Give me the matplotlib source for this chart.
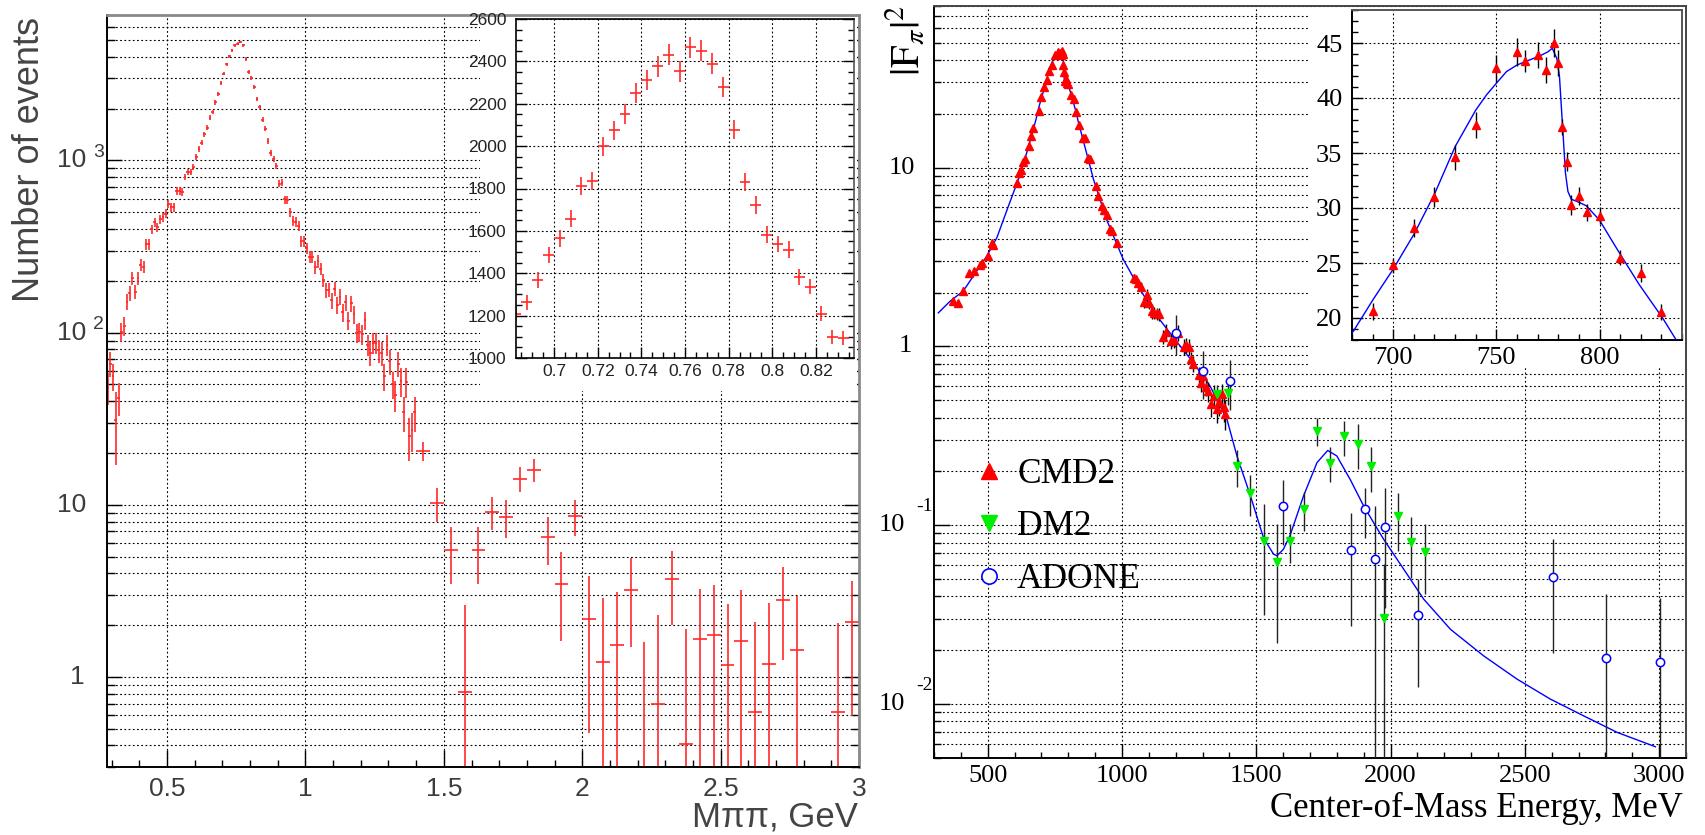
import numpy as np
import matplotlib
matplotlib.use('Agg')
import matplotlib.pyplot as plt
from matplotlib.ticker import MultipleLocator, LogLocator, NullFormatter
from matplotlib.transforms import offset_copy
from matplotlib.lines import Line2D

plt.rcParams['font.family'] = ['Liberation Sans', 'DejaVu Sans']

# ---------------- data: left panel (M_pipi spectrum) ----------------
lo_first_centre, lo_width = 0.285, 0.01
lo_counts = [48, 66, 56, 31, 42, 101, 110, 151, 169, 207,
             173, 207, 247, 241, 327, 327, 398, 437, 409, 455,
             467, 492, 558, 534, 534, 666, 666, 655, 803, 858,
             858, 918, 1049, 1163, 1272, 1421, 1546, 1776, 1915, 2172,
             2449, 2822, 3200, 3626, 4030, 4370, 4670, 4770, 4880, 4670,
             3890, 3270, 3017, 2675, 2280, 2045, 1730, 1526, 1300, 1107,
             1021, 927, 735, 745, 594, 588, 501, 446, 440, 416,
             339, 339, 309, 276, 276, 240, 260, 235, 202, 177,
             178, 154, 180, 145, 162, 131, 150, 117, 148, 128,
             100, 101, 98, 118, 85, 76, 87, 87, 79, 76,
             56, 85, 68, 50, 43.5, 66, 52.5, 34.5, 52, 25,
             27.3, 34.4]
lo_err = [10, 11, 10, 14, 9, 13, 14, 16, 17, 19,
          17, 19, 20, 20, 23, 23, 26, 27, 26, 28,
          28, 29, 31, 30, 30, 34, 34, 33, 37, 38,
          38, 39, 42, 44, 46, 49, 51, 55, 57, 61,
          64, 69, 74, 78, 83, 86, 89, 90, 91, 89,
          81, 74, 71, 67, 62, 59, 54, 51, 47, 43,
          42, 40, 35, 35, 32, 32, 29, 27, 27, 27,
          24, 24, 23, 22, 22, 20, 21, 20, 18, 17,
          17, 16, 17, 16, 17, 15, 16, 14, 16, 15,
          13, 13, 13, 14, 12, 12, 12, 12, 12, 12,
          10, 12, 11, 9, 9, 11, 10, 8, 10, 7,
          7, 8]

hi_first_centre, hi_width = 1.425, 0.05
hi_counts = [20.6, 10.3, 5.47, 0.82, 5.47, 9.1, 8.5, 14.2, 16.0, 6.5,
             3.47, 8.6, 2.17, 1.22, 1.53, 3.2, 0.2, 0.7, 3.7, 0.41,
             1.66, 1.75, 1.17, 1.62, 0.63, 1.19, 2.8, 1.44, np.nan, np.nan,
             0.63, 2.09]
hi_err = [2.7, 2.3, 2.0, 1.8, 2.0, 2.0, 2.1, 2.4, 2.4, 2.0,
          1.85, 2.0, 1.7, 1.66, 1.6, 1.7, 1.4, 1.6, 1.7, 1.5,
          1.6, 1.65, 1.5, 1.6, 1.45, 1.5, 1.55, 1.5, np.nan, np.nan,
          1.43, 1.5]

ins_first_centre, ins_width = 0.6825, 0.005
ins_counts = [1208, 1263, 1367, 1486, 1566, 1657, 1810, 1834, 1999, 2074,
              2151, 2252, 2313, 2376, 2431, 2353, 2466, 2450, 2389, 2279,
              2078, 1829, 1724, 1582, 1538, 1511, 1381, 1337, 1209, 1099,
              1094]
ins_err = [35, 36, 37, 39, 40, 41, 43, 43, 45, 46,
           46, 47, 48, 49, 49, 49, 50, 49, 49, 48,
           46, 43, 42, 40, 39, 39, 37, 37, 35, 33,
           33]

left_xticks = [0.5, 1.0, 1.5, 2.0, 2.5, 3.0]
left_xticklabels = ['0.5', '1', '1.5', '2', '2.5', '3']
ins_xticks = [0.70, 0.72, 0.74, 0.76, 0.78, 0.80, 0.82]
ins_xticklabels = ['0.7', '0.72', '0.74', '0.76', '0.78', '0.8', '0.82']
ins_yticks = [1000, 1200, 1400, 1600, 1800, 2000, 2200, 2400, 2600]

# ---------------- data: right panel (|F_pi|^2) ----------------
cmd2_E = [372, 391, 409, 430, 449, 471, 480, 500, 515, 521,
          610, 618, 623, 630, 638, 652, 660, 670, 690, 700,
          710, 720, 730, 740, 750, 760, 764, 770, 774, 778,
          780, 782, 784, 786, 790, 794, 800, 810, 820, 830,
          841, 853, 863, 872, 882, 904, 912, 925, 933, 943,
          956, 964, 981, 1045, 1053, 1061, 1070, 1082, 1092, 1102,
          1111, 1120, 1130, 1139, 1154, 1163, 1182, 1192, 1210, 1229,
          1239, 1248, 1256, 1266, 1285, 1294, 1303, 1313, 1322, 1331,
          1343, 1353, 1362, 1372, 1380, 1384]
cmd2_F = [1.79, 1.74, 2.05, 2.56, 2.64, 2.87, 2.94, 3.22, 3.8, 3.7,
          8.15, 9.3, 9.66, 10.8, 11.1, 13.2, 15.0, 16.7, 20.6, 24.8,
          28.2, 31.0, 34.6, 37.55, 42.7, 44.2, 43.4, 43.9, 42.55, 45.0,
          43.2, 37.35, 34.2, 30.3, 31.1, 29.6, 29.3, 25.5, 24.1, 20.55,
          17.4, 14.7, 14.7, 11.3, 11.1, 7.87, 6.92, 6.08, 5.82, 5.46,
          4.55, 4.44, 3.8, 2.42, 2.37, 2.25, 2.16, 1.77, 1.95, 1.74,
          1.57, 1.54, 1.53, 1.51, 1.13, 1.21, 1.07, 1.08, 1.19, 0.995,
          1.02, 0.995, 0.846, 0.8, 0.69, 0.627, 0.68, 0.595, 0.562, 0.474,
          0.53, 0.445, 0.49, 0.54, 0.46, 0.42]
cmd2_err = [0.08, 0.08, 0.09, 0.1, 0.1, 0.1, 0.1, 0.12, 0.15, 0.15,
            0.3, 0.35, 0.35, 0.4, 0.4, 0.45, 0.5, 0.55, 0.75, 0.68,
            0.8, 0.95, 1.1, 1.16, 1.2, 1.3, 1.0, 1.15, 1.2, 1.27,
            1.2, 0.7, 0.85, 0.9, 0.85, 0.8, 0.75, 0.65, 0.85, 0.75,
            0.6, 0.5, 0.5, 0.4, 0.4, 0.3, 0.3, 0.25, 0.25, 0.25,
            0.2, 0.2, 0.18, 0.12, 0.12, 0.12, 0.12, 0.12, 0.15, 0.12,
            0.15, 0.12, 0.12, 0.12, 0.1, 0.12, 0.1, 0.1, 0.12, 0.1,
            0.1, 0.1, 0.08, 0.08, 0.08, 0.07, 0.07, 0.07, 0.07, 0.07,
            0.08, 0.07, 0.08, 0.08, 0.08, 0.08]

dm2_E = [1353, 1394, 1428, 1477, 1527, 1577, 1626, 1676, 1726, 1776,
         1828, 1878, 1927, 1977, 2028, 2077, 2127]
dm2_F = [0.54, 0.55, 0.214, 0.152, 0.0817, 0.062, 0.0817, 0.123, 0.336, 0.224,
         0.315, 0.286, 0.214, 0.0305, 0.112, 0.081, 0.0713]
dm2_err = [0.07, 0.08, 0.05, 0.04, 0.05, 0.04, 0.02, 0.03, 0.06, 0.05,
           0.07, 0.08, 0.06, 0.03, 0.04, 0.03, 0.03]

adone_E = [1202, 1301, 1403, 1601, 1852, 1903, 1943, 1981, 2103, 2603, 2802, 3002]
adone_F = [1.19, 0.728, 0.64, 0.128, 0.0724, 0.123, 0.0646, 0.0977, 0.0314, 0.0514, 0.0182, 0.0172]
adone_err = [0.3, 0.22, 0.2, 0.05, 0.045, 0.038, 0.063, 0.063, 0.019, 0.032, 0.023, 0.022]

fit_E = [316, 360, 409, 496, 534, 577, 614, 651, 680.6, 690.3,
         700, 710.3, 720.2, 730, 740, 745.2, 750, 754.9, 760, 766.1,
         771, 775, 777.1, 779.3, 780.6, 781.6, 782.6, 783.5, 784.7, 786.3,
         790.3, 793.6, 800, 809.7, 819.4, 830.6, 837.1, 845, 894, 943,
         1005, 1067, 1130, 1198, 1266, 1328, 1353, 1391, 1428, 1477,
         1527, 1564, 1577, 1601, 1626, 1676, 1726, 1766, 1800, 1850,
         1900, 1974, 2049, 2123, 2223, 2347, 2471, 2595, 2719, 2844,
         2986]
fit_F = [1.54, 1.79, 2.04, 3.19, 4.05, 6.08, 8.57, 12.9, 18.78, 21.7,
         24.45, 27.7, 31.35, 35.58, 38.9, 40.28, 41.34, 42.4, 43.0, 43.46,
         43.82, 44.2, 44.52, 43.6, 41.94, 38.9, 35.9, 33.17, 31.5, 30.8,
         30.5, 30.2, 28.9, 25.9, 23.0, 20.0, 18.03, 16.3, 8.57, 5.1,
         3.06, 2.08, 1.48, 1.09, 0.81, 0.6, 0.506, 0.39, 0.244, 0.148,
         0.085, 0.069, 0.0675, 0.0734, 0.088, 0.146, 0.224, 0.262, 0.244, 0.18,
         0.128, 0.0836, 0.0568, 0.0387, 0.0262, 0.0186, 0.0138, 0.01067, 0.0086, 0.00695,
         0.00578]

right_xticks = [500, 1000, 1500, 2000, 2500, 3000]
rins_xticks = [700, 750, 800]
rins_yticks = [20, 25, 30, 35, 40, 45]
legend_names = ['CMD2', 'DM2', 'ADONE']

# ---------------- figure ----------------
W, H = 1706, 835
fig = plt.figure(figsize=(W / 100, H / 100), dpi=100)


def box(l, t, r, b):
    return [l / W, 1 - b / H, (r - l) / W, (b - t) / H]


DOT = (0, (1.6, 2.2))
RED = '#ff2a2a'
GRAY_TXT = '#3c3c3c'
SANS = ['Liberation Sans', 'DejaVu Sans']
SERIF = ['Liberation Serif', 'DejaVu Serif']


def grid(ax, xwhich='major', ywhich='both'):
    ax.grid(True, which=xwhich, axis='x', color='k', ls=DOT, lw=0.8)
    ax.grid(True, which=ywhich, axis='y', color='k', ls=DOT, lw=0.8)
    ax.set_axisbelow(True)


def ytext(ax, yv, s, dx, dy, fs, family, color, ha='right'):
    t = offset_copy(ax.get_yaxis_transform(), fig=fig, x=dx, y=dy, units='dots')
    ax.text(0, yv, s, transform=t, ha=ha, va='center', fontsize=fs,
            family=family, color=color, clip_on=False)


def pad_axes(rect):
    p = fig.add_axes(rect)
    p.set_facecolor('white')
    p.set_xticks([])
    p.set_yticks([])
    for s in p.spines.values():
        s.set_visible(False)
    return p


# ---- left main ----
ax1 = fig.add_axes(box(107, 15, 859, 767))
ax1.set_yscale('log')
ax1.set_xlim(0.283, 3.0)
ax1.set_ylim(0.3, 7000)
lo_x = lo_first_centre + lo_width * np.arange(len(lo_counts))
ax1.errorbar(lo_x, lo_counts, yerr=lo_err, xerr=lo_width / 2, fmt='none',
             ecolor=RED, elinewidth=1.2, capsize=0)
hi_x = hi_first_centre + hi_width * np.arange(len(hi_counts))
hc = np.array(hi_counts)
he = np.array(hi_err)
m = ~np.isnan(hc)
ax1.errorbar(hi_x[m], hc[m], yerr=he[m], xerr=hi_width / 2, fmt='none',
             ecolor=RED, elinewidth=1.2, capsize=0)
ax1.set_xticks(left_xticks, labels=left_xticklabels, fontsize=19, color=GRAY_TXT)
ax1.xaxis.set_minor_locator(MultipleLocator(0.1))
ax1.yaxis.set_major_locator(LogLocator(base=10, numticks=20))
ax1.yaxis.set_minor_locator(LogLocator(base=10, subs=np.arange(2, 10), numticks=40))
ax1.yaxis.set_major_formatter(NullFormatter())
ax1.yaxis.set_minor_formatter(NullFormatter())
ax1.tick_params(which='both', direction='in', right=True, width=1, colors='k')
ax1.tick_params(axis='x', which='major', length=12, pad=7, labelcolor=GRAY_TXT)
ax1.tick_params(axis='x', which='minor', length=5)
ax1.tick_params(axis='y', which='major', length=11)
ax1.tick_params(axis='y', which='minor', length=6)
grid(ax1)
for s in ['left', 'bottom']:
    ax1.spines[s].set_linewidth(1.4)
for s in ['top', 'right']:
    ax1.spines[s].set_color('#8a8a8a')
    ax1.spines[s].set_linewidth(2)
ytext(ax1, 1, '1', -22, 0, 19, SANS, GRAY_TXT)
ytext(ax1, 10, '10', -21, 0, 19, SANS, GRAY_TXT)
ytext(ax1, 100, '10', -21, 0, 19, SANS, GRAY_TXT)
ytext(ax1, 100, '2', -14, 8, 14, SANS, GRAY_TXT, ha='left')
ytext(ax1, 1000, '10', -21, 0, 19, SANS, GRAY_TXT)
ytext(ax1, 1000, '3', -14, 8, 14, SANS, GRAY_TXT, ha='left')

fig.text(30 / W, 1 - 17 / H, 'Number of events', rotation=90, ha='center', va='top',
         fontsize=26, color='#444444')
fig.text(858 / W, 1 - 817 / H, 'Mππ, GeV', ha='right', va='center',
         fontsize=25, color='#444444')

# ---- left inset ----
pad_axes(box(480, 17, 857, 391))
ax1i = fig.add_axes(box(516, 19, 854, 358))
ax1i.set_xlim(0.6825, 0.8375)
ax1i.set_ylim(1000, 2600)
ins_x = ins_first_centre + ins_width * np.arange(len(ins_counts))
ax1i.errorbar(ins_x, ins_counts, yerr=ins_err, xerr=ins_width / 2, fmt='none',
              ecolor=RED, elinewidth=1.2, capsize=0)
ax1i.set_xticks(ins_xticks, labels=ins_xticklabels, fontsize=12.5, color='#222222')
ax1i.set_yticks(ins_yticks, labels=[str(v) for v in ins_yticks], fontsize=12.5, color='#222222')
ax1i.xaxis.set_minor_locator(MultipleLocator(0.005))
ax1i.yaxis.set_minor_locator(MultipleLocator(50))
ax1i.tick_params(which='both', direction='in', right=True, width=1)
ax1i.tick_params(which='major', length=8)
ax1i.tick_params(which='minor', length=4)
ax1i.tick_params(axis='x', pad=4)
ax1i.tick_params(axis='y', pad=7)
grid(ax1i, 'major', 'major')
for s in ax1i.spines.values():
    s.set_linewidth(1.2)
ax1i.spines['right'].set_color('#555555')

# ---- right main ----
ax2 = fig.add_axes(box(934, 6, 1686, 758))
ax2.set_yscale('log')
ax2.set_xlim(300, 3100)
ax2.set_ylim(0.005, 80)


def draw_right(ax, msz):
    ax.plot(fit_E, fit_F, color='#0000ff', lw=1.0, zorder=3)
    ax.errorbar(cmd2_E, cmd2_F, yerr=cmd2_err, fmt='none', ecolor='k', elinewidth=1.0, zorder=4)
    ax.errorbar(dm2_E, dm2_F, yerr=dm2_err, fmt='none', ecolor='#222222', elinewidth=1.0, zorder=4)
    ax.errorbar(adone_E, adone_F, yerr=adone_err, fmt='none', ecolor='#222222', elinewidth=1.0, zorder=4)
    ax.plot(cmd2_E, cmd2_F, ls='none', marker='^', ms=msz, color='#ff0000', mec='#ff0000', zorder=5)
    ax.plot(dm2_E, dm2_F, ls='none', marker='v', ms=msz, color='#00ee00', mec='#00ee00', zorder=5)
    ax.plot(adone_E, adone_F, ls='none', marker='o', ms=msz + 0.5, mfc='white', mec='#0000ff',
            mew=1.1, zorder=5)


draw_right(ax2, 5.5)
ax2.set_xticks(right_xticks, labels=[str(v) for v in right_xticks], fontsize=19,
               fontfamily=SERIF, color='k')
ax2.xaxis.set_minor_locator(MultipleLocator(100))
ax2.yaxis.set_major_locator(LogLocator(base=10, numticks=20))
ax2.yaxis.set_minor_locator(LogLocator(base=10, subs=np.arange(2, 10), numticks=40))
ax2.yaxis.set_major_formatter(NullFormatter())
ax2.yaxis.set_minor_formatter(NullFormatter())
ax2.tick_params(which='both', direction='in', width=1)
ax2.tick_params(axis='x', which='major', length=10, pad=5)
ax2.tick_params(axis='x', which='minor', length=4.5)
ax2.tick_params(axis='y', which='major', length=11.5)
ax2.tick_params(axis='y', which='minor', length=5)
grid(ax2)
for s in ax2.spines.values():
    s.set_linewidth(1.4)
ax2.spines['top'].set_color('#444444')
ax2.spines['right'].set_color('#444444')
ytext(ax2, 10, '10', -19, 0, 19, SERIF, 'k')
ytext(ax2, 1, '1', -22, 0, 19, SERIF, 'k')
ytext(ax2, 0.1, '10', -29, 0, 19, SERIF, 'k')
ytext(ax2, 0.1, '-1', -1, 19, 14, SERIF, 'k')
ytext(ax2, 0.01, '10', -29, 0, 19, SERIF, 'k')
ytext(ax2, 0.01, '-2', -1, 19, 14, SERIF, 'k')

fig.text(905 / W, 1 - 5 / H, r'$|\mathrm{F}_{\pi}|^{2}$', rotation=90, ha='center', va='top',
         fontsize=29, math_fontfamily='stix')
fig.text(1683 / W, 1 - 808 / H, 'Center-of-Mass Energy, MeV', ha='right', va='center',
         fontsize=25, family=SERIF)

handles = [Line2D([], [], ls='none', marker='^', ms=11, color='#ff0000'),
           Line2D([], [], ls='none', marker='v', ms=11, color='#00ee00'),
           Line2D([], [], ls='none', marker='o', ms=11, mfc='white', mec='#0000ff', mew=1.2)]
ax2.legend(handles, legend_names, loc='upper left', bbox_to_anchor=(971 / W, 1 - 458 / H),
           bbox_transform=fig.transFigure, frameon=False, borderaxespad=0, borderpad=0,
           handlelength=1.0, handletextpad=0.3, labelspacing=0.55,
           prop={'family': SERIF, 'size': 25.5})

# ---- right inset ----
pad_axes(box(1308, 8, 1684, 368))
ax2i = fig.add_axes(box(1352, 10, 1682, 340))
ax2i.set_xlim(680, 840)
ax2i.set_ylim(18, 48)
draw_right(ax2i, 5.5)
ax2i.set_xticks(rins_xticks, labels=[str(v) for v in rins_xticks], fontsize=19,
                fontfamily=SERIF, color='k')
ax2i.set_yticks(rins_yticks, labels=[str(v) for v in rins_yticks], fontsize=19,
                fontfamily=SERIF, color='k')
ax2i.xaxis.set_minor_locator(MultipleLocator(10))
ax2i.yaxis.set_minor_locator(MultipleLocator(1))
ax2i.tick_params(which='both', direction='in', width=1)
ax2i.tick_params(which='major', length=8)
ax2i.tick_params(which='minor', length=4)
ax2i.tick_params(axis='x', pad=5)
ax2i.tick_params(axis='y', pad=7)
grid(ax2i, 'major', 'major')
for s in ax2i.spines.values():
    s.set_linewidth(1.4)
ax2i.spines['right'].set_color('#555555')
ax2i.spines['top'].set_color('#555555')

fig.savefig('out.png', dpi=100)
